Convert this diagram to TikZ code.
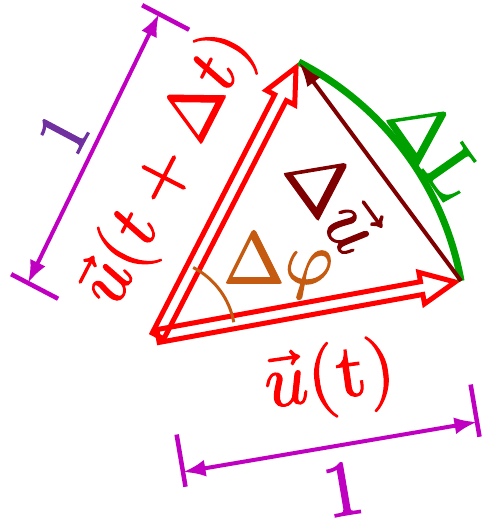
\documentclass[tikz,border=0pt]{standalone}
\usepackage{tikz}
\usepackage{xcolor}
\usepackage{unicode-math}
\setmathfont{Latin Modern Math}[FakeBold=1.6]
\setmathfont{Latin Modern Math}[range={"0028-"0029,"002B}, FakeBold=1.6]
\definecolor{vecRed}{HTML}{FF0000}
\definecolor{dimMagenta}{HTML}{C000C0}
\definecolor{dimPurple}{HTML}{7030A0}
\definecolor{angleOrange}{HTML}{C55A11}
\definecolor{chordRed}{HTML}{7F0000}
\definecolor{arcGreen}{HTML}{00A000}
\usetikzlibrary{arrows.meta}

\begin{document}
\begin{tikzpicture}[x=0.02cm, y=0.02cm,
  hollowvec/.style={draw=vecRed, line width=0.1cm, line join=miter},
  dimline/.style={dimMagenta, line width=0.08cm,
    {Latex[length=0.45cm,width=0.34cm]}-{Latex[length=0.45cm,width=0.34cm]}},
  dimtick/.style={dimMagenta, line width=0.09cm},
  lbl/.style={font=\fontsize{#1}{#1}\selectfont, inner sep=0pt}]
  \useasboundingbox (0,0) rectangle (483,519);
  % the two unit vectors
  \coordinate (O) at (158,183);
  \coordinate (A) at ([shift={(10.3:308)}]O);
  \coordinate (B) at ([shift={(62.8:308)}]O);
  \begin{scope}[shift={(O)}, rotate=10.3]
    \draw[hollowvec] (0,-6.5) -- (268,-6.5) -- (268,-16) -- (302,0) -- (268,16) -- (268,6.5) -- (0,6.5) -- cycle;
  \end{scope}
  \begin{scope}[shift={(O)}, rotate=62.8]
    \draw[hollowvec] (0,-6.5) -- (268,-6.5) -- (268,-16) -- (302,0) -- (268,16) -- (268,6.5) -- (0,6.5) -- cycle;
  \end{scope}
  % angle, arc and chord
  \draw[angleOrange, line width=0.06cm] ([shift={(10.3:77)}]O) arc[start angle=10.3, end angle=62.8, radius=77];
  \draw[arcGreen, line width=0.14cm] (A) arc[start angle=10.3, end angle=62.8, radius=308];
  \draw[chordRed, line width=0.08cm, -{Latex[length=0.5cm,width=0.32cm]}] (A) -- (B);
  % dimension lines
  \coordinate (U1) at (28,236);
  \coordinate (U2) at (159,505);
  \coordinate (L1) at (183,47);
  \coordinate (L2) at (477,97);
  \draw[dimline] (U1) -- (U2);
  \draw[dimline] (L1) -- (L2);
  \draw[dimtick] ([shift={(-27.6:-19)}]U1) -- ([shift={(-27.6:34)}]U1);
  \draw[dimtick] ([shift={(-27.6:-19)}]U2) -- ([shift={(-27.6:34)}]U2);
  \draw[dimtick] ([shift={(99.65:-15)}]L1) -- ([shift={(99.65:38)}]L1);
  \draw[dimtick] ([shift={(99.65:-15)}]L2) -- ([shift={(99.65:38)}]L2);
  % labels
  \node[lbl=40, text=dimPurple, rotate=62] (oneUp) at (63,386) {$1$};
  \node[lbl=45, text=dimMagenta, rotate=9.65] (oneLow) at (343,30) {$1$};
  \node[lbl=41, text=vecRed, rotate=62.8] (uNext) at (168,350) {$\vec{u}(t+\Delta t)$};
  \node[lbl=43, text=vecRed, rotate=8] (uNow) at (330,139) {$\vec{u}(\symup{t})$};
  \node[lbl=42, text=angleOrange] (dPhi) at (278,254) {$\Delta\varphi$};
  \node[lbl=44, text=chordRed, rotate=-54] (dU) at (336,320) {$\Delta\vec{u}$};
  \node[lbl=42, text=arcGreen, rotate=-55] (dL) at (437,372) {$\Delta\symup{L}$};
\end{tikzpicture}
\end{document}
